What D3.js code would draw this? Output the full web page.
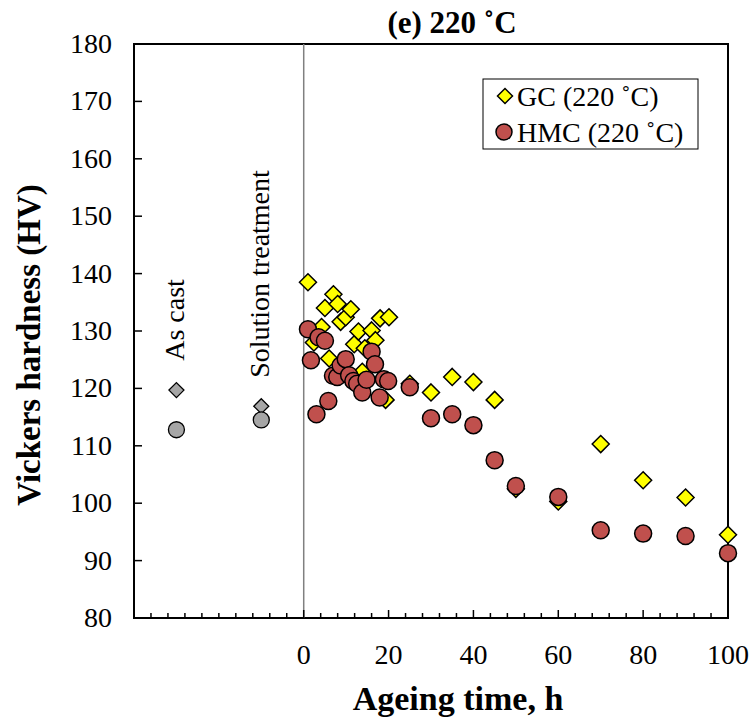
<!DOCTYPE html>
<html>
<head>
<meta charset="utf-8">
<script src="https://cdn.jsdelivr.net/npm/d3@7"></script>
<style>
  html, body { margin: 0; padding: 0; background: #fff; }
  svg { display: block; }
</style>
</head>
<body>
<svg id="chart" width="751" height="722"></svg>
<script>
// ---- Data ----
const gcTime = [1, 2.4, 4.2, 5, 6, 7, 8, 8.7, 9.9, 11.1, 11.9, 12.9, 13.8, 14.4, 16, 16.9, 18, 19.3, 20.1, 25, 30, 35, 40, 45, 50, 60, 70, 80, 90, 100];
const gcHV   = [138.5, 128.0, 130.7, 134.0, 125.2, 136.4, 134.7, 131.6, 132.4, 133.8, 127.7, 129.9, 122.9, 127.0, 130.1, 128.4, 132.2, 118.0, 132.4, 120.8, 119.3, 122.0, 121.1, 118.0, 102.5, 100.3, 110.3, 104.0, 101.0, 94.5];
const hmcTime = [1, 1.7, 3, 3.5, 5, 5.8, 6.9, 7.9, 8.7, 9.9, 10.7, 11.7, 12.6, 13.8, 14.8, 16, 16.8, 17.9, 18.9, 19.9, 25, 30, 35, 40, 45, 50, 60, 70, 80, 90, 100];
const hmcHV   = [130.3, 124.9, 115.5, 128.9, 128.3, 117.8, 122.2, 122.0, 124.0, 125.1, 122.3, 121.3, 120.8, 119.3, 121.5, 126.4, 124.2, 118.4, 121.6, 121.3, 120.2, 114.8, 115.5, 113.6, 107.5, 103.0, 101.1, 95.3, 94.7, 94.3, 91.3];
// reference states (plotted at pseudo x positions left of zero)
const refLabels = ["As cast", "Solution treatment"];
const refTime = [-30, -10];
const refGcHV = [119.7, 116.9];
const refHmcHV = [112.8, 114.5];
const xTickLabels = [0, 20, 40, 60, 80, 100];
const yTickLabels = [80, 90, 100, 110, 120, 130, 140, 150, 160, 170, 180];
const legendLabels = ["GC (220 ˚C)", "HMC (220 ˚C)"];

// ---- Layout ----
const svg = d3.select("#chart");
const L = 134, R = 728, T = 44, B = 618;
const serif = "'Liberation Serif', 'Times New Roman', serif";
const x = d3.scaleLinear().domain([-40, 100]).range([L, R]);
const y = d3.scaleLinear().domain([80, 180]).range([B, T]);

// frame
svg.append("rect").attr("x", L).attr("y", T).attr("width", R - L).attr("height", B - T)
  .attr("fill", "none").attr("stroke", "#000").attr("stroke-width", 2);

// vertical line at zero
svg.append("line").attr("x1", x(0)).attr("x2", x(0)).attr("y1", T).attr("y2", B)
  .attr("stroke", "#808080").attr("stroke-width", 1.5);

// x ticks (inward)
const xt = d3.range(-40, 100.001, 4);
svg.append("g").selectAll("line").data(xt).enter().append("line")
  .attr("x1", d => x(d)).attr("x2", d => x(d))
  .attr("y1", B).attr("y2", d => (d >= 0 && d % 20 === 0) ? B - 8 : B - 5)
  .attr("stroke", "#000").attr("stroke-width", 1.5);
svg.append("g").selectAll("text").data(xTickLabels).enter().append("text")
  .attr("x", d => x(d)).attr("y", 664).attr("text-anchor", "middle")
  .attr("font-family", serif).attr("font-size", 28).text(d => d);

// y ticks (inward)
svg.append("g").selectAll("line").data(yTickLabels).enter().append("line")
  .attr("x1", L).attr("x2", L + 8).attr("y1", d => y(d)).attr("y2", d => y(d))
  .attr("stroke", "#000").attr("stroke-width", 1.5);
svg.append("g").selectAll("text").data(yTickLabels).enter().append("text")
  .attr("x", 112).attr("y", d => y(d) + 9).attr("text-anchor", "end")
  .attr("font-family", serif).attr("font-size", 28).text(d => d);

// axis titles
svg.append("text").attr("x", 458).attr("y", 710).attr("text-anchor", "middle")
  .attr("font-family", serif).attr("font-weight", "bold").attr("font-size", 34)
  .text("Ageing time, h");
svg.append("text").attr("transform", `translate(40,345) rotate(-90)`)
  .attr("text-anchor", "middle")
  .attr("font-family", serif).attr("font-weight", "bold").attr("font-size", 33)
  .text("Vickers hardness (HV)");

// title
svg.append("text").attr("x", 452).attr("y", 33).attr("text-anchor", "middle")
  .attr("font-family", serif).attr("font-weight", "bold").attr("font-size", 31)
  .text("(e) 220 ˚C");

// reference labels
const refLabelY = [320, 274];
refLabels.forEach((t, i) => {
  svg.append("text").attr("transform", `translate(${x(refTime[i]) + 8},${refLabelY[i]}) rotate(-90)`)
    .attr("text-anchor", "middle").attr("font-family", serif).attr("font-size", 28).text(t);
});

const diamond = (cx, cy, s) => `M${cx},${cy - s}L${cx + s},${cy}L${cx},${cy + s}L${cx - s},${cy}Z`;
const DS = 8.5, CR = 8.5;

// reference markers
svg.append("g").selectAll("path").data(refTime).enter().append("path")
  .attr("d", (d, i) => diamond(x(d), y(refGcHV[i]), 7.5))
  .attr("fill", "#a6a6a6").attr("stroke", "#000").attr("stroke-width", 1.3);
svg.append("g").selectAll("circle").data(refTime).enter().append("circle")
  .attr("cx", d => x(d)).attr("cy", (d, i) => y(refHmcHV[i])).attr("r", CR - 0.5)
  .attr("fill", "#a6a6a6").attr("stroke", "#000").attr("stroke-width", 1.3);

// GC diamonds
svg.append("g").selectAll("path").data(gcTime).enter().append("path")
  .attr("d", (d, i) => diamond(x(d), y(gcHV[i]), DS))
  .attr("fill", "#ffff00").attr("stroke", "#000").attr("stroke-width", 1.5);

// HMC circles
svg.append("g").selectAll("circle").data(hmcTime).enter().append("circle")
  .attr("cx", d => x(d)).attr("cy", (d, i) => y(hmcHV[i])).attr("r", CR)
  .attr("fill", "#c0504d").attr("stroke", "#000").attr("stroke-width", 1.5);

// legend
svg.append("rect").attr("x", 483).attr("y", 79).attr("width", 215).attr("height", 70)
  .attr("fill", "#fff").attr("stroke", "#000").attr("stroke-width", 1);
svg.append("path").attr("d", diamond(505, 96, 7.5))
  .attr("fill", "#ffff00").attr("stroke", "#000").attr("stroke-width", 1.5);
svg.append("circle").attr("cx", 504).attr("cy", 132).attr("r", 8)
  .attr("fill", "#c0504d").attr("stroke", "#000").attr("stroke-width", 1.5);
svg.append("text").attr("x", 517).attr("y", 106).attr("font-family", serif).attr("font-size", 28).text(legendLabels[0]);
svg.append("text").attr("x", 517).attr("y", 142).attr("font-family", serif).attr("font-size", 28).text(legendLabels[1]);
</script>
</body>
</html>
